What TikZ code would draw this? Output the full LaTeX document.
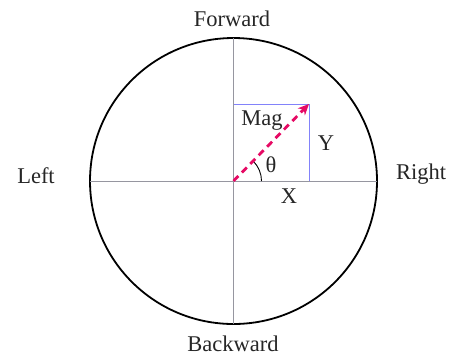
\documentclass[tikz,border=0pt]{standalone}
\usepackage{fontspec}
\setmainfont{Liberation Serif}
\usetikzlibrary{arrows.meta}
\definecolor{magarrow}{RGB}{230,10,100}
\definecolor{rectblue}{RGB}{130,130,250}
\definecolor{axisgray}{RGB}{150,150,160}
\begin{document}
\begin{tikzpicture}[x=1pt,y=-1pt,
  lbl/.style={font=\fontsize{22.5}{26}\selectfont, inner sep=0pt, text=black!85},
  axisline/.style={draw=axisgray, line width=0.9pt},
  comp/.style={draw=rectblue, line width=0.8pt},
  magvec/.style={draw=magarrow, line width=2.8pt, dash pattern=on 7pt off 5pt, -{Stealth[length=11pt,width=10pt]}}]
\useasboundingbox (0,0) rectangle (454,360);
\coordinate (O) at (233.5,181);
\coordinate (T) at (233.5,38);
\coordinate (B) at (233.5,324);
\coordinate (L) at (90,181);
\coordinate (R) at (377,181);
\coordinate (P) at (309,104);
\coordinate (PX) at (309,181);
\coordinate (PY) at (233.5,104);
\draw[black, line width=1.8pt] (O) circle[x radius=143.5pt, y radius=143pt];
\draw[axisline] (L) -- (R);
\draw[axisline] (T) -- (B);
\draw[comp] (PY) -- (P) -- (PX);
\draw[black, line width=0.9pt] ([shift={(28,0)}]O) arc[start angle=0, end angle=45, radius=28pt];
\draw[magvec] (O) -- (P);
\node[lbl] (fwd) at (232,19) {Forward};
\node[lbl] (bwd) at (233,344) {Backward};
\node[lbl] (lft) at (36,176) {Left};
\node[lbl] (rgt) at (421,174) {Right};
\node[lbl] (mag) at (262,121) {Mag};
\node[lbl] (yl) at (326,143) {Y};
\node[lbl] (xl) at (289,196) {X};
\node[lbl] (th) at (271,165) {θ};
\end{tikzpicture}
\end{document}
